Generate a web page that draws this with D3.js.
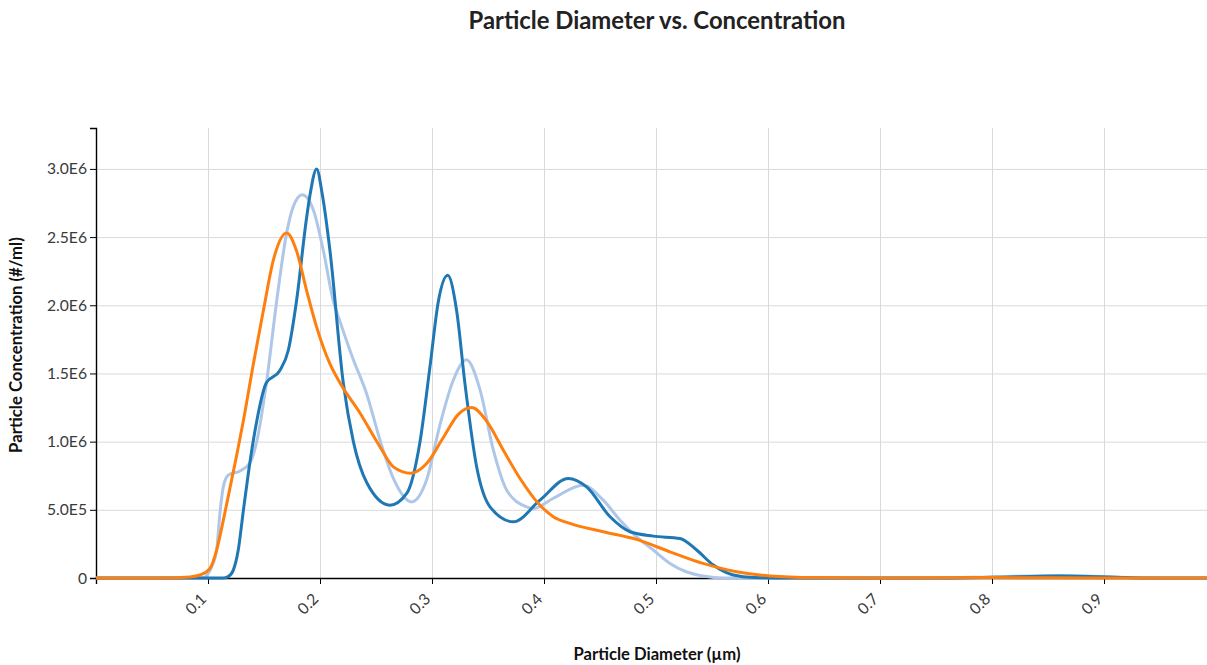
<!DOCTYPE html>
<html>
<head>
<meta charset="utf-8">
<script src="https://cdn.jsdelivr.net/npm/d3@7"></script>
<style>
  html, body { margin: 0; padding: 0; background: #fff; overflow: hidden; }
  svg { display: block; font-family: Lato, "Open Sans", sans-serif; }
</style>
</head>
<body>
<svg id="chart" width="1207" height="665"></svg>
<script>
// ---- Data ----
const chartTitle = "Particle Diameter vs. Concentration";
const xAxisTitle = "Particle Diameter (µm)";
const yAxisTitle = "Particle Concentration (#/ml)";

const xTickValues = [0.1, 0.2, 0.3, 0.4, 0.5, 0.6, 0.7, 0.8, 0.9];
const xTickLabels = ["0.1", "0.2", "0.3", "0.4", "0.5", "0.6", "0.7", "0.8", "0.9"];
const yTickValues = [0, 5e5, 1e6, 1.5e6, 2e6, 2.5e6, 3e6];
const yTickLabels = ["0", "5.0E5", "1.0E6", "1.5E6", "2.0E6", "2.5E6", "3.0E6"];

// Series 1 (dark blue)
const diameterA = [0, 0.1, 0.1137, 0.118, 0.1226, 0.127, 0.1315, 0.136, 0.1405, 0.1435, 0.152, 0.164, 0.1717, 0.179, 0.188, 0.1911, 0.197, 0.2021, 0.2089, 0.2208, 0.2298, 0.2417, 0.2625, 0.2774, 0.2893, 0.2982, 0.3057, 0.314, 0.322, 0.3295, 0.3399, 0.3518, 0.3726, 0.3964, 0.4217, 0.438, 0.459, 0.4768, 0.4976, 0.5214, 0.5363, 0.5512, 0.569, 0.587, 0.62, 0.75, 0.8, 0.86, 0.92, 0.95, 1.0];
const concA     = [0, 0, 0, 10e3, 58e3, 205e3, 490e3, 766e3, 1.01e6, 1.15e6, 1.43e6, 1.52e6, 1.67e6, 2.03e6, 2.64e6, 2.81e6, 3.0e6, 2.81e6, 2.40e6, 1.43e6, 1.0e6, 700e3, 534e3, 620e3, 1.0e6, 1.55e6, 2.03e6, 2.22e6, 1.96e6, 1.42e6, 814e3, 522e3, 412e3, 571e3, 730e3, 668e3, 449e3, 339e3, 307e3, 290e3, 205e3, 95e3, 22e3, 3e3, 0, 0, 5e3, 15e3, 3e3, 0, 0];

// Series 2 (light blue)
const diameterB = [0, 0.095, 0.1003, 0.1033, 0.1077, 0.1107, 0.1137, 0.1182, 0.1286, 0.1375, 0.1435, 0.152, 0.1613, 0.170, 0.176, 0.1842, 0.194, 0.203, 0.2119, 0.2179, 0.2298, 0.2417, 0.2536, 0.2655, 0.2818, 0.2952, 0.307, 0.319, 0.3307, 0.3429, 0.3548, 0.3667, 0.3845, 0.3905, 0.408, 0.435, 0.4529, 0.4679, 0.4827, 0.4976, 0.5125, 0.527, 0.542, 0.56, 0.75, 0.8, 0.86, 0.92, 0.95, 1.0];
const concB     = [0, 0, 34e3, 83e3, 205e3, 480e3, 670e3, 755e3, 785e3, 845e3, 1.0e6, 1.42e6, 2.03e6, 2.52e6, 2.72e6, 2.81e6, 2.70e6, 2.40e6, 2.03e6, 1.88e6, 1.60e6, 1.35e6, 1.01e6, 730e3, 558e3, 720e3, 1.12e6, 1.45e6, 1.60e6, 1.38e6, 937e3, 644e3, 522e3, 510e3, 583e3, 680e3, 571e3, 424e3, 302e3, 205e3, 107e3, 46e3, 15e3, 0, 0, 8e3, 18e3, 4e3, 0, 0];

// Series 3 (orange)
const diameterC = [0, 0.06, 0.084, 0.0929, 0.1018, 0.1077, 0.1137, 0.1196, 0.1256, 0.1315, 0.1405, 0.1494, 0.1583, 0.1702, 0.179, 0.188, 0.197, 0.2089, 0.2179, 0.2357, 0.2536, 0.2655, 0.2811, 0.2952, 0.3101, 0.3235, 0.3354, 0.3488, 0.3637, 0.3786, 0.3964, 0.4083, 0.4232, 0.4529, 0.4827, 0.5125, 0.542, 0.572, 0.6018, 0.64, 0.7, 0.8, 0.9, 1.0];
const concC     = [0, 0, 8e3, 22e3, 71e3, 205e3, 424e3, 660e3, 900e3, 1.15e6, 1.57e6, 1.96e6, 2.33e6, 2.53e6, 2.40e6, 2.11e6, 1.84e6, 1.57e6, 1.43e6, 1.21e6, 961e3, 815e3, 768e3, 839e3, 1.03e6, 1.20e6, 1.25e6, 1.15e6, 937e3, 730e3, 534e3, 450e3, 400e3, 339e3, 283e3, 192e3, 107e3, 46e3, 15e3, 3e3, 0, 3e3, 0, 0];

const seriesColors = ["#aec7e8", "#1f77b4", "#ff7f0e"];

// ---- Layout ----
const margin = { left: 96, top: 128 };
const plotW = 1120, plotH = 450;

const svg = d3.select("#chart");
const x = d3.scaleLinear().domain([0, 1]).range([margin.left, margin.left + plotW]);
const y = d3.scaleLinear().domain([0, 3.3e6]).range([margin.top + plotH, margin.top]);

function fitText(sel, targetWidth) {
  const w = sel.node().getComputedTextLength();
  const fs = parseFloat(sel.attr("font-size"));
  const nf = fs * targetWidth / w;
  sel.attr("font-size", nf);
  return nf;
}

// grid
const grid = svg.append("g");
grid.append("g")
  .attr("transform", `translate(0,${margin.top + plotH})`)
  .call(d3.axisBottom(x).tickValues(xTickValues).tickSize(-plotH).tickFormat(""))
  .call(g => g.select(".domain").remove())
  .call(g => g.selectAll("line").attr("stroke", "#d9d9d9"));
grid.append("g")
  .attr("transform", `translate(${margin.left},0)`)
  .call(d3.axisLeft(y).tickValues(yTickValues.slice(1)).tickSize(-plotW).tickFormat(""))
  .call(g => g.select(".domain").remove())
  .call(g => g.selectAll("line").attr("stroke", "#d9d9d9"));

// axes
const xAxis = svg.append("g")
  .attr("transform", `translate(0,${margin.top + plotH})`)
  .call(d3.axisBottom(x).tickValues(xTickValues).tickFormat((d, i) => xTickLabels[i]));

const yAxis = svg.append("g")
  .attr("transform", `translate(${margin.left},0)`)
  .call(d3.axisLeft(y).tickValues(yTickValues).tickFormat((d, i) => yTickLabels[i]));

// tick label size fitted so "3.0E6" is as wide as in the reference
const probe = yAxis.selectAll(".tick text").filter((d, i) => i === yTickValues.length - 1)
  .attr("font-size", 14).attr("font-family", "Lato, sans-serif");
const tickFs = fitText(probe, 40);

[xAxis, yAxis].forEach(a => {
  a.selectAll(".tick text").attr("font-size", tickFs).attr("fill", "#3a3a3a").attr("font-family", "Lato, sans-serif");
  a.selectAll(".domain, .tick line").attr("stroke", "#000");
  a.select(".domain").attr("stroke-width", 1.4);
});
xAxis.selectAll(".tick text")
  .attr("y", 0).attr("dy", 0)
  .attr("transform", "translate(-1,22) rotate(-45)")
  .style("text-anchor", "end");

// lines
const line = d3.line().x(d => x(d[0])).y(d => y(d[1])).curve(d3.curveMonotoneX);
const seriesData = [
  d3.zip(diameterB, concB),
  d3.zip(diameterA, concA),
  d3.zip(diameterC, concC)
];
svg.append("g").selectAll("path")
  .data(seriesData)
  .join("path")
  .attr("d", line)
  .attr("fill", "none")
  .attr("stroke", (d, i) => seriesColors[i])
  .attr("stroke-width", 3)
  .attr("stroke-linejoin", "round");

// titles
const t = svg.append("text")
  .attr("x", 657).attr("y", 29)
  .attr("text-anchor", "middle").attr("font-weight", "bold")
  .attr("font-size", 20).attr("fill", "#222")
  .text(chartTitle);
fitText(t, 377);

const xt = svg.append("text")
  .attr("x", 657).attr("y", 660)
  .attr("text-anchor", "middle").attr("font-weight", "bold")
  .attr("font-size", 13).attr("fill", "#111")
  .text(xAxisTitle);
fitText(xt, 167);

const yt = svg.append("text")
  .attr("transform", "translate(22,345) rotate(-90)")
  .attr("text-anchor", "middle").attr("font-weight", "bold")
  .attr("font-size", 13).attr("fill", "#111")
  .text(yAxisTitle);
fitText(yt, 216);
</script>
</body>
</html>
